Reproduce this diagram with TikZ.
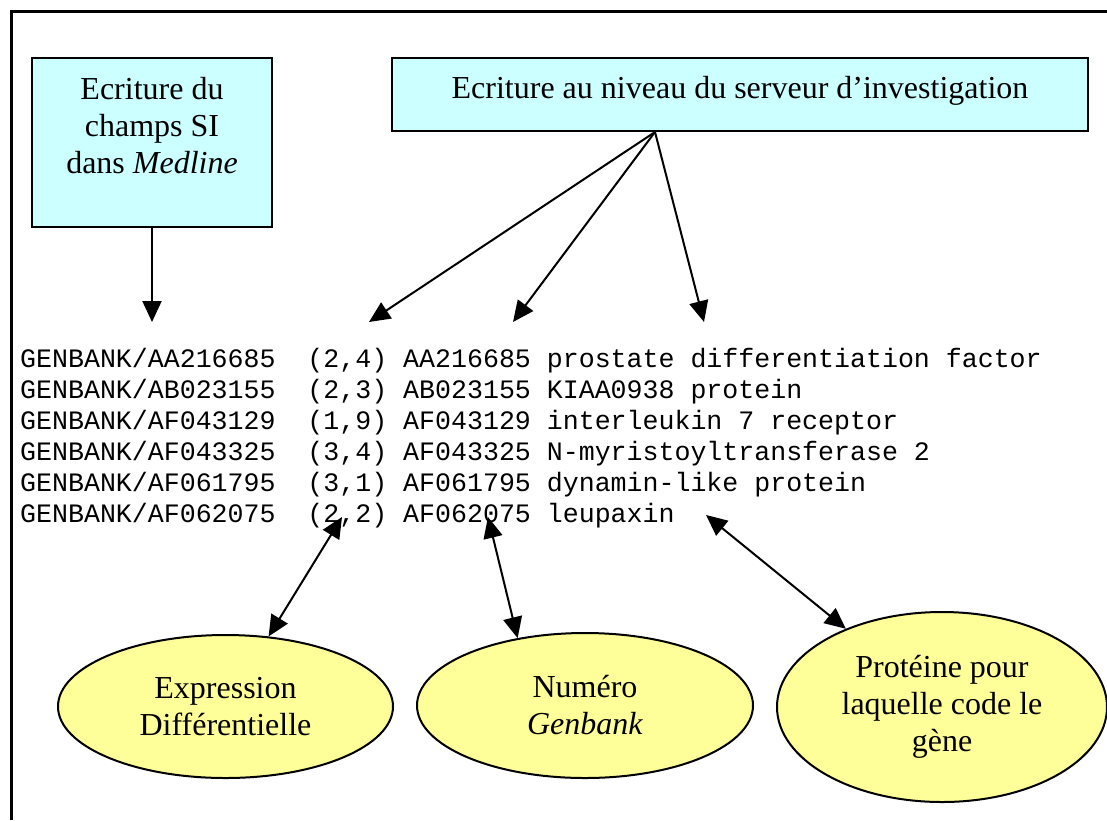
\documentclass[tikz,border=0pt]{standalone}
\usepackage{fontspec}
\setmainfont{Liberation Serif}
\setmonofont{Liberation Mono}
\usetikzlibrary{arrows.meta,shapes.geometric}
\definecolor{boxcyan}{HTML}{CCFFFF}
\definecolor{ellyellow}{HTML}{FFFF99}
\begin{document}
\begin{tikzpicture}[x=1pt,y=-1pt,
		sibox/.style={draw,line width=2pt,fill=boxcyan,rectangle,inner sep=0pt,
					align=center,font=\fontsize{32}{37}\selectfont},
		ov/.style={draw,line width=2pt,fill=ellyellow,ellipse,inner sep=2pt,
					align=center,font=\fontsize{32}{37}\selectfont},
		row/.style={anchor=base west,inner sep=0pt,font=\ttfamily\fontsize{26.6}{31}\selectfont},
		arr/.style={line width=2pt,-{Triangle[length=21pt,width=19pt]}},
		biarr/.style={line width=2pt,{Triangle[length=21pt,width=19pt]}-{Triangle[length=21pt,width=19pt]}}]
		\useasboundingbox (0,0) rectangle (1107,820);
		% cadre
		\draw[line width=3pt] (1107,11) -- (11,11) -- (11,820);
		% boites du haut
		\node[sibox,minimum width=240,text height=115,text depth=54] (medline) at (152,142.5)
			{Ecriture du\\champs SI\\dans \textit{Medline}};
		\node[sibox,minimum width=696,text height=40,text depth=33] (serveur) at (740,94.5)
			{Ecriture au niveau du serveur d'investigation};
		% lignes
		\node[row] (r1) at (20,367) {GENBANK/AA216685~ (2,4) AA216685 prostate differentiation factor};
		\node[row] (r2) at (20,398) {GENBANK/AB023155~ (2,3) AB023155 KIAA0938 protein};
		\node[row] (r3) at (20,429) {GENBANK/AF043129~ (1,9) AF043129 interleukin 7 receptor};
		\node[row] (r4) at (20,460) {GENBANK/AF043325~ (3,4) AF043325 N-myristoyltransferase 2};
		\node[row] (r5) at (20,491) {GENBANK/AF061795~ (3,1) AF061795 dynamin-like protein};
		\node[row] (r6) at (20,522) {GENBANK/AF062075~ (2,2) AF062075 leupaxin};
		% ellipses
		\node[ov,minimum width=335,minimum height=143] (expr) at (225.5,706.5)
			{Expression\\Différentielle};
		\node[ov,minimum width=336,minimum height=145] (genbank) at (585,705.5)
			{Numéro\\\textit{Genbank}};
		\node[ov,minimum width=330,minimum height=190] (proteine) at (942,707)
			{Protéine pour\\laquelle code le\\gène};
		% fleches
		\coordinate (fan) at ([xshift=-85pt]serveur.south);
		\coordinate (a0) at (152,322);
		\coordinate (a1) at (369,322);
		\coordinate (a2) at (513,322);
		\coordinate (a3) at (704,322);
		\coordinate (t1) at (342,517);
		\coordinate (t2) at (488,517);
		\coordinate (t3) at (706,515);
		\draw[arr] (medline) -- (a0);
		\draw[arr] (fan) -- (a1);
		\draw[arr] (fan) -- (a2);
		\draw[arr] (fan) -- (a3);
		\draw[biarr] (t1) -- (expr);
		\draw[biarr] (t2) -- (genbank.135);
		\draw[biarr] (t3) -- (proteine);
	\end{tikzpicture}
\end{document}
